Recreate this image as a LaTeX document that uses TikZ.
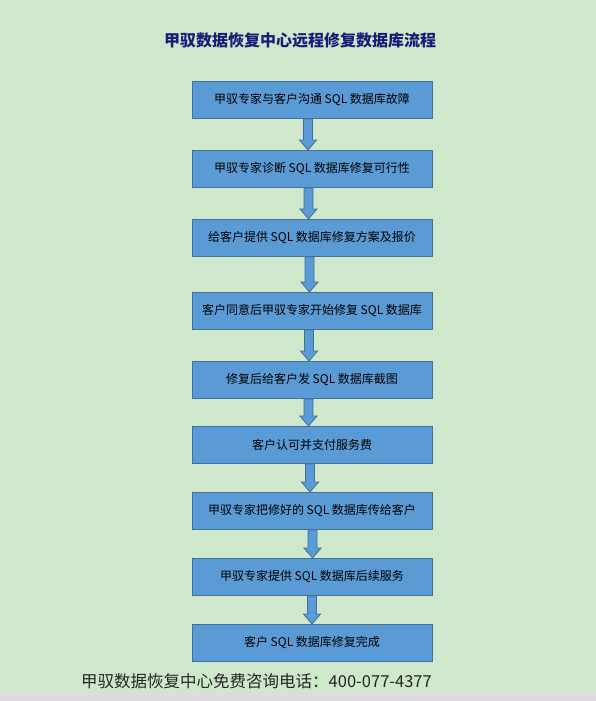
\documentclass[tikz,border=0pt]{standalone}
\usepackage{fontspec}
\newfontfamily\cjk{Noto Sans CJK SC}
\usepackage{xcolor}
\definecolor{cBack}{HTML}{CFE7CA}
\definecolor{cBox}{HTML}{5B9BD5}
\definecolor{cEdge}{HTML}{41719C}
\definecolor{cTitle}{HTML}{1C1C78}
\definecolor{cStrip}{HTML}{DCDCDC}
\usepackage{tikz}
\usetikzlibrary{positioning,calc}
\tikzset{
  node-box/.style={draw=cEdge,line width=0.9pt,fill=cBox,
    minimum height=37pt,minimum width=240pt,inner sep=0pt,
    align=center,font=\cjk\fontsize{12pt}{14pt}\selectfont},
  node-title/.style={font=\cjk\bfseries\fontsize{16pt}{18pt}\selectfont,
    text=cTitle},
  node-foot/.style={font=\cjk\fontsize{16.5pt}{19pt}\selectfont,
    text=black!85},
  arrow-block/.style={draw=cEdge,line width=0.8pt,fill=cBox,line join=miter},
}
% fat down arrow from one box to the next, shifted by #3
\newcommand{\blockarrow}[3]{%
  \draw[arrow-block]
    ($(#1.south)+(#3-4.5,0)$) -- ($(#2.north)+(#3-4.5,-10)$)
    -- ++(-4,0) -- ($(#2.north)+(#3,0)$)
    -- ($(#2.north)+(#3+8.5,-10)$) -- ++(-4,0)
    -- ($(#1.south)+(#3+4.5,0)$) -- cycle;}

\begin{document}
\begin{tikzpicture}[x=1pt,y=-1pt]
  \fill[cBack] (0,0) rectangle (596,701);
  \useasboundingbox (0,0) rectangle (596,701);
  \fill[cStrip] (0,692) rectangle (596,701);

  \node[node-title] (title) at (300,40) {甲驭数据恢复中心远程修复数据库流程};

  \foreach \i/\y/\t in {
    1/100/{甲驭专家与客户沟通 SQL 数据库故障},
    2/169/{甲驭专家诊断 SQL 数据库修复可行性},
    3/238/{给客户提供 SQL 数据库修复方案及报价},
    4/311/{客户同意后甲驭专家开始修复 SQL 数据库},
    5/380/{修复后给客户发 SQL 数据库截图},
    6/445/{客户认可并支付服务费},
    7/511/{甲驭专家把修好的 SQL 数据库传给客户},
    8/577/{甲驭专家提供 SQL 数据库后续服务},
    9/643/{客户 SQL 数据库修复完成}}
    \node[node-box] (b\i) at (312,\y) {\t};

  \foreach \a/\b/\dx in {b1/b2/-4,b2/b3/-3.5,b3/b4/-2.5,b4/b5/-3,
    b5/b6/-3.5,b6/b7/-2,b7/b8/0.5,b8/b9/0}
    {\blockarrow{\a}{\b}{\dx}}

  \node[node-foot] (foot) at (256.5,681) {甲驭数据恢复中心免费咨询电话：400-077-4377};
\end{tikzpicture}
\end{document}
